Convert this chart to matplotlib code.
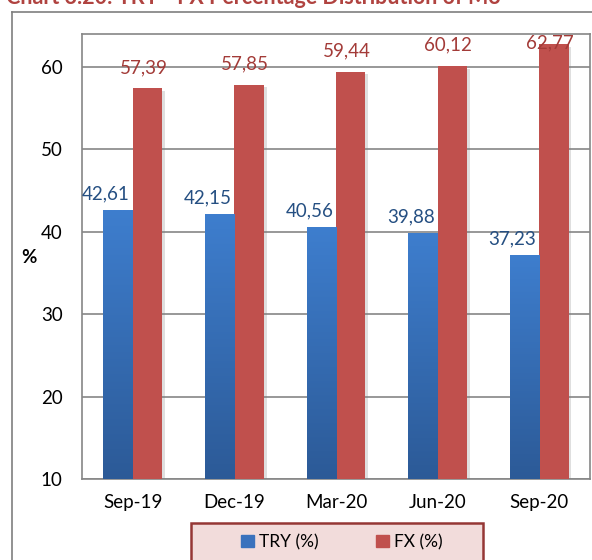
import numpy as np
import matplotlib.pyplot as plt
import matplotlib.patheffects as pe
from matplotlib.colors import LinearSegmentedColormap
from matplotlib.patches import Rectangle
from matplotlib.lines import Line2D

plt.rcParams["font.family"] = ["Lato", "DejaVu Sans"]

periods = ["Sep-19", "Dec-19", "Mar-20", "Jun-20", "Sep-20"]
try_share = [42.61, 42.15, 40.56, 39.88, 37.23]
fx_share = [57.39, 57.85, 59.44, 60.12, 62.77]
series_names = ["TRY (%)", "FX (%)"]

blue = "#3a72bd"
red = "#c0504d"
grid_gray = "#868686"

fig = plt.figure(figsize=(5.92, 5.60), dpi=100)
ax = fig.add_axes([82 / 592, 1 - 479 / 560, (590 - 82) / 592, (479 - 34) / 560])

x = np.arange(len(periods))
w = 0.29
ymin, ymax = 10, 64

shadow = [pe.SimplePatchShadow(offset=(2, -2), shadow_rgbFace="#808080", alpha=0.25), pe.Normal()]
b1 = ax.bar(x - w / 2, try_share, w, color=blue, zorder=3, path_effects=shadow, label=series_names[0])
b2 = ax.bar(x + w / 2, fx_share, w, color=red, zorder=3, path_effects=shadow, label=series_names[1])

# vertical gradient on the blue bars
cmap = LinearSegmentedColormap.from_list("tryblue", ["#2c5a97", "#3e7ece"])
grad = np.linspace(0, 1, 256).reshape(-1, 1)
for rect in b1:
    x0 = rect.get_x()
    im = ax.imshow(grad, extent=[x0, x0 + rect.get_width(), ymin, rect.get_height()],
                   origin="lower", aspect="auto", cmap=cmap, zorder=3.5)
    im.set_clip_path(rect)

ax.set_xlim(-0.5, len(periods) - 0.5)
ax.set_ylim(ymin, ymax)
ax.set_yticks([10, 20, 30, 40, 50, 60])
ax.set_xticks(x)
ax.set_xticklabels(periods)
ax.tick_params(axis="both", length=0, labelsize=13.5, colors="#000000")
ax.tick_params(axis="y", pad=14)
ax.tick_params(axis="x", pad=11)
ax.grid(axis="y", color=grid_gray, linewidth=1.2, zorder=0)
ax.set_axisbelow(True)
for s in ax.spines.values():
    s.set_color(grid_gray)
    s.set_linewidth(1.2)

# data labels (comma decimals)
px = (ymax - ymin) / 445.0
for i, v in enumerate(try_share):
    ax.text(x[i] - w / 2 - 6 * 0.0197, v + 16 * px, f"{v:.2f}".replace(".", ","),
            ha="center", va="center", fontsize=13.5, color="#254f82", zorder=5)
for i, v in enumerate(fx_share):
    yv = min(v + 21 * px, ymax - 9 * px)
    ax.text(x[i] + w / 2 - 2 * 0.0197, yv, f"{v:.2f}".replace(".", ","),
            ha="center", va="center", fontsize=13.5, color="#a33b38", zorder=5)

fig.text(29 / 592, 1 - 258 / 560, "%", fontsize=13.5, fontweight="bold", ha="center", va="center")

# title, cut off at the top of the picture as in the source
fig.text(6 / 592, 1 - 4.5 / 560, "Chart 3.20: TRY - FX Percentage Distribution of M3",
         fontsize=15.5, fontweight="bold", color="#b04340", ha="left", va="baseline")

# outer chart frame
fig.add_artist(Line2D([12 / 592, 12 / 592], [0, 1 - 12 / 560], color="#7f7f7f", linewidth=1.2,
                      transform=fig.transFigure))
fig.add_artist(Line2D([12 / 592, 1], [1 - 12 / 560, 1 - 12 / 560], color="#7f7f7f", linewidth=1.2,
                      transform=fig.transFigure))

# legend box
fig.add_artist(Rectangle((191 / 592, -0.02), (483 - 191) / 592, (560 - 523) / 560 + 0.02,
                         transform=fig.transFigure, facecolor="#f2dcdb", edgecolor="#953735",
                         linewidth=1.8))
handles = [Rectangle((0, 0), 1, 1, color=blue), Rectangle((0, 0), 1, 1, color=red)]
fig.legend(handles, series_names, loc="center", bbox_to_anchor=(342 / 592, 1 - 542 / 560),
           ncol=2, frameon=False, fontsize=12.5, handlelength=0.75, handleheight=0.75,
           handletextpad=0.3, columnspacing=3.3)

fig.savefig("out.png", dpi=100)
